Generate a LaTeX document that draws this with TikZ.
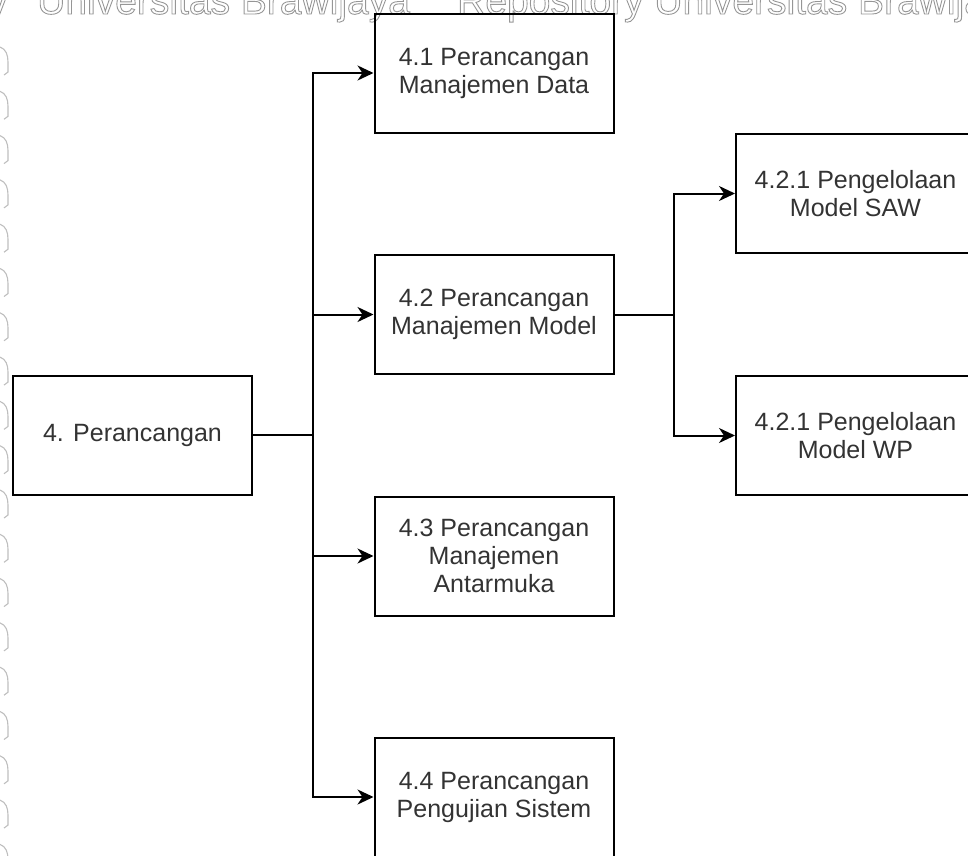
\documentclass[tikz,border=0pt]{standalone}
\usepackage{fontspec}
\setmainfont{Liberation Sans}
\usetikzlibrary{arrows.meta}
\definecolor{txt}{RGB}{51,51,51}
\definecolor{wm}{RGB}{150,150,150}
\definecolor{wml}{RGB}{190,190,190}
\newcommand{\hollowtext}[1]{\special{pdf:literal direct 1 Tr 0.9 w}#1\special{pdf:literal direct 0 Tr}}
\begin{document}
\begin{tikzpicture}[x=1pt,y=-1pt,
  box/.style={draw=black, line width=2pt, minimum width=239pt, minimum height=119pt,
              inner sep=0pt, align=center, font=\fontsize{25}{28}\selectfont, text=txt},
  conn/.style={line width=2pt, draw=black},
  arr/.style={conn, -{Stealth[length=16pt,width=15pt,inset=5pt]}},
  wmtext/.style={inner sep=0pt, text=wm, font=\fontsize{39}{39}\selectfont},
  wmmark/.style={draw=wml, line width=1.1pt}]
\useasboundingbox (0,0) rectangle (968,855);
\begin{scope}
\clip (0,0) rectangle (968,855);
% watermark
\node[wmtext, anchor=base east] (wmy) at (8,14) {\hollowtext{y}};
\node[wmtext, anchor=base west] (wma) at (37,14) {\hollowtext{Universitas Brawijaya}};
\node[wmtext, anchor=base west] (wmb) at (457,14) {\hollowtext{Repository Universitas Brawijaya}};
\foreach \k in {0,...,18}{
  \draw[wmmark] (0,{47+44.3*\k}) .. controls (6,{49+44.3*\k}) and (8,{55+44.3*\k}) .. (8,{62+44.3*\k})
     -- (8,{72+44.3*\k}) -- (4,{75+44.3*\k});
}
% boxes
\node[box] (n4)  at (132.5,435) {4. Perancangan};
\node[box] (n41) at (494,73)    {4.1 Perancangan\\Manajemen Data};
\node[box] (n42) at (494,314.5) {4.2 Perancangan\\Manajemen Model};
\node[box] (n43) at (494,556)   {4.3 Perancangan\\Manajemen\\Antarmuka};
\node[box] (n44) at (494,797)   {4.4 Perancangan\\Pengujian Sistem};
\node[box] (nS)  at (855.5,193.5) {4.2.1 Pengelolaan\\Model SAW};
\node[box] (nW)  at (855.5,435.5) {4.2.1 Pengelolaan\\Model WP};
% connectors
\coordinate (j1) at (313,435);
\coordinate (j2) at (674,314.5);
\draw[conn] (n4) -- (j1);
\draw[arr] (j1) |- (n41);
\draw[arr] (j1) |- (n42);
\draw[arr] (j1) |- (n43);
\draw[arr] (j1) |- (n44);
\draw[conn] (n42) -- (j2);
\draw[arr] (j2) |- (nS);
\draw[arr] (j2) |- (nW);
\end{scope}
\end{tikzpicture}
\end{document}
